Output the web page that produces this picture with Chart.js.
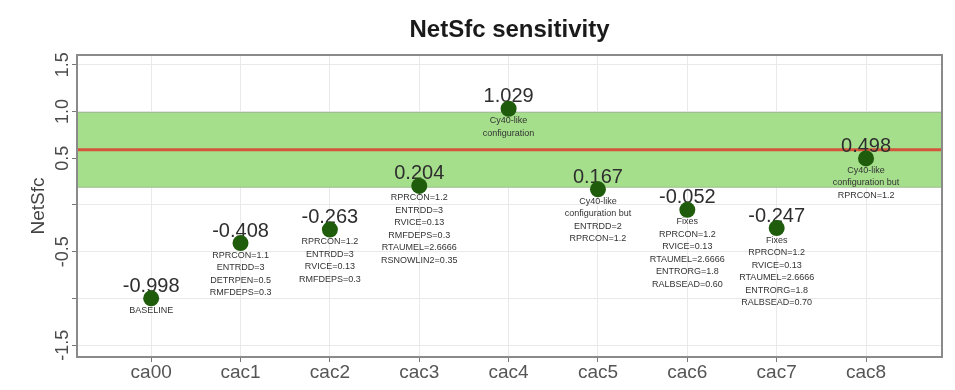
<!DOCTYPE html>
<html>
<head>
<meta charset="utf-8">
<script src="https://cdn.jsdelivr.net/npm/chart.js@4"></script>
<style>
  html, body { margin: 0; padding: 0; background: #ffffff; }
  #wrap { width: 955px; height: 390px; }
</style>
</head>
<body>
<div id="wrap"><canvas id="c"></canvas></div>
<script>
// Experiments and their net surface flux
const categories = ['ca00', 'cac1', 'cac2', 'cac3', 'cac4', 'cac5', 'cac6', 'cac7', 'cac8'];
const netSfc = [-0.998, -0.408, -0.263, 0.204, 1.029, 0.167, -0.052, -0.247, 0.498];

// Parameter settings written under each experiment
const notes = [
  ['BASELINE'],
  ['RPRCON=1.1', 'ENTRDD=3', 'DETRPEN=0.5', 'RMFDEPS=0.3'],
  ['RPRCON=1.2', 'ENTRDD=3', 'RVICE=0.13', 'RMFDEPS=0.3'],
  ['RPRCON=1.2', 'ENTRDD=3', 'RVICE=0.13', 'RMFDEPS=0.3', 'RTAUMEL=2.6666', 'RSNOWLIN2=0.35'],
  ['Cy40-like', 'configuration'],
  ['Cy40-like', 'configuration but', 'ENTRDD=2', 'RPRCON=1.2'],
  ['Fixes', 'RPRCON=1.2', 'RVICE=0.13', 'RTAUMEL=2.6666', 'ENTRORG=1.8', 'RALBSEAD=0.60'],
  ['Fixes', 'RPRCON=1.2', 'RVICE=0.13', 'RTAUMEL=2.6666', 'ENTRORG=1.8', 'RALBSEAD=0.70'],
  ['Cy40-like', 'configuration but', 'RPRCON=1.2']
];

// Y axis ticks (some labels are left blank)
const yTickValues = [-1.5, -1.0, -0.5, 0, 0.5, 1.0, 1.5];
const yTickText = ['-1.5', '', '-0.5', '', '0.5', '1.0', '1.5'];

// Target range and its central value
const targetBand = [0.19, 0.99];
const targetLine = [0.59];

const chartTitle = 'NetSfc sensitivity';

const FONT = 'Liberation Sans, Arial, Helvetica, sans-serif';

const decor = {
  id: 'netSfcDecor',
  beforeDatasetsDraw(chart) {
    const { ctx, chartArea: a, scales: { x, y } } = chart;
    ctx.save();
    ctx.beginPath();
    ctx.rect(a.left, a.top, a.right - a.left, a.bottom - a.top);
    ctx.clip();

    // target band
    const yTop = y.getPixelForValue(targetBand[1]);
    const yBot = y.getPixelForValue(targetBand[0]);
    ctx.fillStyle = '#a5df8c';
    ctx.fillRect(a.left, yTop, a.right - a.left, yBot - yTop);
    ctx.strokeStyle = '#9cbc8e';
    ctx.lineWidth = 1;
    ctx.beginPath();
    ctx.moveTo(a.left, yTop); ctx.lineTo(a.right, yTop);
    ctx.moveTo(a.left, yBot); ctx.lineTo(a.right, yBot);
    ctx.stroke();

    // central value line
    ctx.strokeStyle = '#d4553a';
    ctx.lineWidth = 3;
    targetLine.forEach(v => {
      const py = y.getPixelForValue(v);
      ctx.beginPath();
      ctx.moveTo(a.left, py); ctx.lineTo(a.right, py);
      ctx.stroke();
    });
    ctx.restore();

    // value labels and parameter notes
    ctx.save();
    ctx.textAlign = 'center';
    ctx.textBaseline = 'middle';
    netSfc.forEach((v, i) => {
      const px = x.getPixelForValue(i);
      const py = y.getPixelForValue(v);
      ctx.fillStyle = '#2e2e2e';
      ctx.font = '20px ' + FONT;
      ctx.fillText(v.toFixed(3), px, py - 12);
      ctx.font = '9px ' + FONT;
      ctx.fillStyle = '#333333';
      notes[i].forEach((line, k) => {
        ctx.fillText(line, px, py + 12 + k * 12.5);
      });
    });
    ctx.restore();
  },
  afterDraw(chart) {
    const { ctx, chartArea: a } = chart;
    ctx.save();
    // plot frame
    ctx.strokeStyle = '#8a8a8a';
    ctx.lineWidth = 2;
    ctx.strokeRect(a.left, a.top, a.right - a.left, a.bottom - a.top);
    // title centred over the plotting region
    ctx.fillStyle = '#1a1a1a';
    ctx.font = 'bold 24px ' + FONT;
    ctx.textAlign = 'center';
    ctx.textBaseline = 'middle';
    ctx.fillText(chartTitle, (a.left + a.right) / 2, 30);
    ctx.restore();
  }
};

new Chart(document.getElementById('c'), {
  type: 'scatter',
  data: {
    datasets: [{
      label: 'NetSfc',
      data: netSfc.map((v, i) => ({ x: i, y: v })),
      pointRadius: 8,
      pointHoverRadius: 8,
      backgroundColor: '#1f5c0c',
      borderWidth: 0
    }]
  },
  options: {
    responsive: true,
    maintainAspectRatio: false,
    animation: false,
    layout: { padding: { left: 0, right: 13, top: 55, bottom: 0 } },
    plugins: {
      legend: { display: false },
      tooltip: { enabled: false },
      title: { display: false }
    },
    scales: {
      x: {
        type: 'linear',
        min: -0.83,
        max: 8.85,
        afterBuildTicks: s => { s.ticks = categories.map((_, i) => ({ value: i })); },
        afterFit: s => { s.height = 33; },
        border: { display: false },
        grid: { color: '#e9e9e9', tickColor: '#777777', tickLength: 5, lineWidth: 1 },
        ticks: {
          autoSkip: false,
          maxRotation: 0,
          padding: -1,
          color: '#555555',
          font: { family: FONT, size: 19 },
          callback: v => categories[v] ?? ''
        }
      },
      y: {
        type: 'linear',
        min: -1.626,
        max: 1.604,
        afterBuildTicks: s => { s.ticks = yTickValues.map(v => ({ value: v })); },
        afterFit: s => { s.width = 77; },
        border: { display: false },
        grid: { color: '#e9e9e9', tickColor: '#777777', tickLength: 5, lineWidth: 1 },
        title: {
          display: true,
          text: 'NetSfc',
          color: '#444444',
          font: { family: FONT, size: 19 },
          padding: { top: 27, bottom: 0 }
        },
        ticks: {
          autoSkip: false,
          minRotation: 90,
          maxRotation: 90,
          crossAlign: 'center',
          padding: -7,
          color: '#4a4a4a',
          font: { family: FONT, size: 18 },
          callback: v => yTickText[yTickValues.indexOf(v)] ?? ''
        }
      }
    }
  },
  plugins: [decor]
});
</script>
</body>
</html>
